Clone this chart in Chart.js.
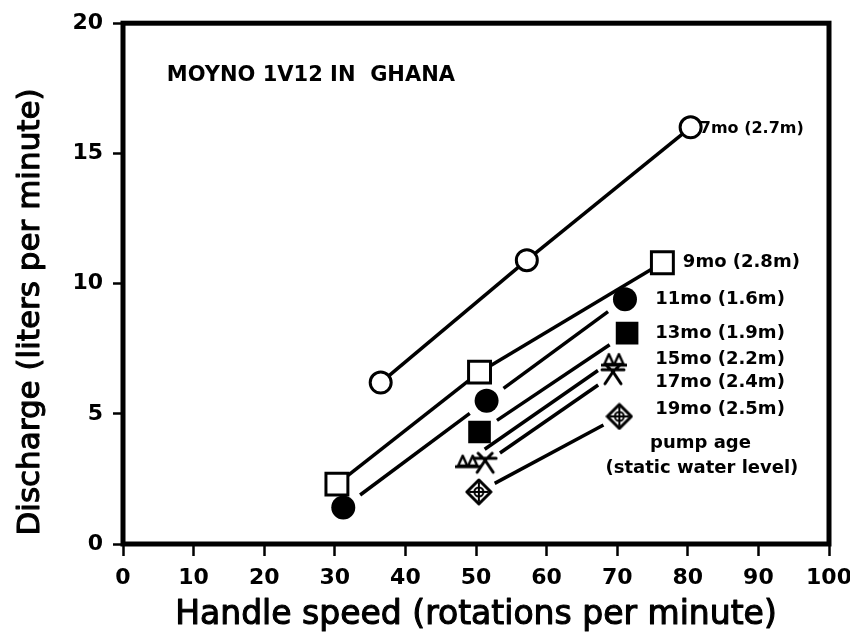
<!DOCTYPE html>
<html>
<head>
<meta charset="utf-8">
<script src="https://cdn.jsdelivr.net/npm/chart.js@4/dist/chart.umd.min.js"></script>
<style>
  html, body { margin: 0; padding: 0; background: #fff; }
  #wrap { width: 850px; height: 640px; }
</style>
</head>
<body>
<div id="wrap"><canvas id="c" width="850" height="640"></canvas></div>
<script>
// Handle speed (rpm) and discharge (l/min) per pump age
const ages = ['7mo (2.7m)', '9mo (2.8m)', '11mo (1.6m)', '13mo (1.9m)', '15mo (2.2m)', '17mo (2.4m)', '19mo (2.5m)'];

const speed7mo = [36.5, 57.2, 80.4];
const flow7mo  = [6.2, 10.9, 16.0];

const speed9mo = [30.3, 50.5, 76.4];
const flow9mo  = [2.3, 6.6, 10.8];

const speed11mo = [31.2, 51.5, 71.1];
const flow11mo  = [1.4, 5.5, 9.4];

const speed13mo = [50.5, 71.4];
const flow13mo  = [4.3, 8.1];

const speed15mo = [48.9, 69.6];
const flow15mo  = [3.2, 7.1];

const speed17mo = [51.3, 69.4];
const flow17mo  = [3.1, 6.5];

const speed19mo = [50.4, 70.3];
const flow19mo  = [2.0, 4.9];

const xTicks = [0, 10, 20, 30, 40, 50, 60, 70, 80, 90, 100];
const yTicks = [0, 5, 10, 15, 20];

const chartTitle = 'MOYNO 1V12 IN  GHANA';
const xTitle = 'Handle speed (rotations per minute)';
const yTitle = 'Discharge (liters per minute)';
const keyNote = ['pump age', '(static water level)'];

function pts(xs, ys) { return xs.map((x, i) => ({ x, y: ys[i] })); }

// ---- hand-made marker glyphs ----
function makeCanvas(w, h, draw) {
  const c = document.createElement('canvas');
  c.width = w; c.height = h;
  const g = c.getContext('2d');
  g.strokeStyle = '#000'; g.fillStyle = '#000'; g.lineCap = 'round'; g.lineJoin = 'round';
  draw(g);
  return c;
}
// two small triangles standing on a bar
const twinTriangles = makeCanvas(26, 18, g => {
  g.lineWidth = 2.4;
  [[3, 12], [13, 22]].forEach(([a, b]) => {
    g.beginPath();
    g.moveTo(a, 14); g.lineTo((a + b) / 2, 4); g.lineTo(b, 14); g.closePath();
    g.stroke();
  });
  g.lineWidth = 3;
  g.beginPath(); g.moveTo(1, 15); g.lineTo(25, 15); g.stroke();
});
// crossed legs with a bar
const barCross = makeCanvas(26, 24, g => {
  g.lineWidth = 3;
  g.beginPath();
  g.moveTo(2, 7); g.lineTo(24, 7);
  g.moveTo(5, 21); g.lineTo(13, 9); g.lineTo(21, 21);
  g.moveTo(6, 2); g.lineTo(13, 9); g.lineTo(20, 2);
  g.stroke();
});
// diamond with inner cross and ring
const crossDiamond = makeCanvas(28, 28, g => {
  g.lineWidth = 3;
  g.beginPath();
  g.moveTo(14, 2); g.lineTo(26, 14); g.lineTo(14, 26); g.lineTo(2, 14); g.closePath();
  g.fillStyle = '#fff'; g.fill(); g.stroke();
  g.lineWidth = 2;
  g.beginPath();
  g.moveTo(14, 5); g.lineTo(14, 23);
  g.moveTo(5, 14); g.lineTo(23, 14);
  g.stroke();
  g.beginPath(); g.arc(14, 14, 4.5, 0, Math.PI * 2); g.stroke();
});

// ---- label anchors (data units) ----
const labelAnchors = [
  { text: ages[0], x: 81.7, y: 15.95, align: 'left', size: 16 },
  { text: ages[1], x: 79.3, y: 10.8, align: 'left', size: 18 },
  { text: ages[2], x: 75.4, y: 9.4, align: 'left', size: 18 },
  { text: ages[3], x: 75.4, y: 8.1, align: 'left', size: 18 },
  { text: ages[4], x: 75.4, y: 7.1, align: 'left', size: 18 },
  { text: ages[5], x: 75.4, y: 6.2, align: 'left', size: 18 },
  { text: ages[6], x: 75.4, y: 5.18, align: 'left', size: 18 },
  { text: keyNote[0], x: 81.8, y: 3.88, align: 'center', size: 18 },
  { text: keyNote[1], x: 82.0, y: 2.9, align: 'center', size: 18 }
];

// heavier text: fill plus a thin outline
function boldText(ctx, text, x, y, outline) {
  ctx.fillText(text, x, y);
  if (outline) { ctx.lineWidth = outline; ctx.strokeText(text, x, y); }
}

const frameAndLines = {
  id: 'frameAndLines',
  beforeDatasetsDraw(chart) {
    const { ctx, chartArea: a } = chart;
    ctx.save();
    ctx.strokeStyle = '#000';
    ctx.lineWidth = 5;
    ctx.strokeRect(a.left, a.top, a.right - a.left, a.bottom - a.top);
    // connecting segments, trimmed near markers where requested
    chart.data.datasets.forEach((ds, i) => {
      const meta = chart.getDatasetMeta(i);
      const gap = ds.lineGap || 0;
      ctx.lineWidth = 3.5;
      ctx.lineCap = 'butt';
      for (let k = 1; k < meta.data.length; k++) {
        const p = meta.data[k - 1], q = meta.data[k];
        const dx = q.x - p.x, dy = q.y - p.y, len = Math.hypot(dx, dy);
        const ux = dx / len, uy = dy / len;
        ctx.beginPath();
        ctx.moveTo(p.x + ux * gap, p.y + uy * gap);
        ctx.lineTo(q.x - ux * gap, q.y - uy * gap);
        ctx.stroke();
      }
    });
    ctx.restore();
  },
  afterDraw(chart) {
    const { ctx, scales: { x, y }, chartArea: a } = chart;
    ctx.save();
    ctx.fillStyle = '#000';
    ctx.strokeStyle = '#000';
    ctx.lineJoin = 'round';
    ctx.textBaseline = 'middle';
    labelAnchors.forEach(l => {
      ctx.font = 'bold ' + l.size + 'px "DejaVu Sans"';
      ctx.textAlign = l.align;
      ctx.fillText(l.text, x.getPixelForValue(l.x), y.getPixelForValue(l.y));
    });
    ctx.font = 'bold 21px "DejaVu Sans"';
    ctx.textAlign = 'left';
    ctx.fillText(chartTitle, x.getPixelForValue(6.2), y.getPixelForValue(18.0));
    // axis titles
    ctx.font = '33px "DejaVu Sans"';
    ctx.textAlign = 'center';
    boldText(ctx, xTitle, (a.left + a.right) / 2, 615, 1.1);
    ctx.font = '31px "DejaVu Sans"';
    ctx.translate(31, 312);
    ctx.rotate(-Math.PI / 2);
    boldText(ctx, yTitle, 0, 0, 1.1);
    ctx.restore();
  }
};

const base = { showLine: false, pointBorderColor: '#000', pointHoverRadius: 0 };

new Chart(document.getElementById('c'), {
  type: 'scatter',
  data: {
    datasets: [
      { ...base, label: ages[0], data: pts(speed7mo, flow7mo), pointStyle: 'circle', pointRadius: 10.5, pointBorderWidth: 3, pointBackgroundColor: '#fff', lineGap: 0 },
      { ...base, label: ages[1], data: pts(speed9mo, flow9mo), pointStyle: 'rect', pointRadius: 15.5, pointBorderWidth: 3, pointBackgroundColor: '#fff', lineGap: 0 },
      { ...base, label: ages[2], data: pts(speed11mo, flow11mo), pointStyle: 'circle', pointRadius: 12, pointBorderWidth: 0, pointBackgroundColor: '#000', lineGap: 21 },
      { ...base, label: ages[3], data: pts(speed13mo, flow13mo), pointStyle: 'rect', pointRadius: 16, pointBorderWidth: 0, pointBackgroundColor: '#000', lineGap: 21 },
      { ...base, label: ages[4], data: pts(speed15mo, flow15mo), pointStyle: twinTriangles, pointRadius: 12, lineGap: 20 },
      { ...base, label: ages[5], data: pts(speed17mo, flow17mo), pointStyle: barCross, pointRadius: 12, lineGap: 18 },
      { ...base, label: ages[6], data: pts(speed19mo, flow19mo), pointStyle: crossDiamond, pointRadius: 14, lineGap: 18 }
    ]
  },
  options: {
    responsive: false,
    animation: false,
    devicePixelRatio: 1,
    layout: { padding: { top: 22, right: 21, left: 0, bottom: 0 } },
    plugins: { legend: { display: false }, tooltip: { enabled: false } },
    events: [],
    scales: {
      x: {
        type: 'linear', min: 0, max: 100,
        afterBuildTicks: s => { s.ticks = xTicks.map(v => ({ value: v })); },
        afterFit: s => { s.height = 96; s.paddingRight = 21; s.paddingLeft = 0; },
        border: { display: false },
        grid: { drawOnChartArea: false, drawTicks: true, tickLength: 12, tickWidth: 2.5, tickColor: '#000' },
        ticks: { color: '#000', font: { family: 'DejaVu Sans', size: 22, weight: 'bold' }, padding: 9, maxRotation: 0 }
      },
      y: {
        type: 'linear', min: 0, max: 20,
        afterBuildTicks: s => { s.ticks = yTicks.map(v => ({ value: v })); },
        afterFit: s => { s.width = 123; },
        border: { display: false },
        grid: { drawOnChartArea: false, drawTicks: true, tickLength: 10, tickWidth: 2.5, tickColor: '#000' },
        ticks: { color: '#000', font: { family: 'DejaVu Sans', size: 22, weight: 'bold' }, padding: 10 }
      }
    }
  },
  plugins: [frameAndLines]
});
</script>
</body>
</html>
